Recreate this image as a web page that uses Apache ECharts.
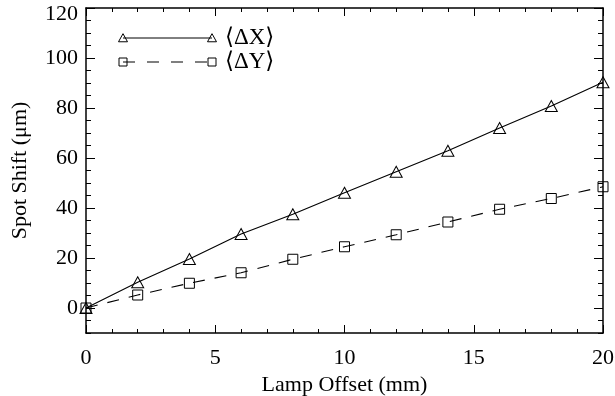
<!DOCTYPE html>
<html>
<head>
<meta charset="utf-8">
<script src="https://cdn.jsdelivr.net/npm/echarts@6/dist/echarts.min.js"></script>
<style>html,body{margin:0;padding:0;background:#fff}#c{width:615px;height:396px}</style>
</head>
<body>
<div id="c"></div>
<script>
var offsets = [0, 2, 4, 6, 8, 10, 12, 14, 16, 18, 20];
var dX = [0, 10.3, 19.6, 29.6, 37.5, 46.1, 54.5, 62.9, 72.0, 80.8, 90.3];
var dY = [0, 5.2, 9.9, 14.1, 19.5, 24.5, 29.3, 34.4, 39.5, 43.8, 48.5];
var yMajor = [0, 20, 40, 60, 80, 100, 120];
var seriesNames = ['\u27E8\u0394X\u27E9', '\u27E8\u0394Y\u27E9'];

var FONT = '"Liberation Serif", "DejaVu Serif", serif';
var chart = echarts.init(document.getElementById('c'), null, {renderer: 'canvas'});

function pairs(xs, ys) { return xs.map(function (x, i) { return [x, ys[i]]; }); }

var lineCol = '#000';
var gridPos = {left: 86, right: 12, top: 8, bottom: 63, containLabel: false, outerBoundsMode: 'none'};

function xAx(pos, show) {
  return {
    type: 'value', position: pos, min: 0, max: 20, interval: 5,
    axisLine: {show: true, onZero: false, lineStyle: {color: lineCol, width: 1.5}},
    axisTick: {show: true, inside: true, length: 8, lineStyle: {color: lineCol}},
    minorTick: {show: true, splitNumber: 5, length: 4, lineStyle: {color: lineCol}},
    splitLine: {show: false},
    axisLabel: {show: show, fontFamily: FONT, fontSize: 22, color: '#000', margin: 14},
    name: show ? 'Lamp Offset (mm)' : '', nameLocation: 'middle', nameGap: 32,
    nameTextStyle: {fontFamily: FONT, fontSize: 22, color: '#000', verticalAlign: 'middle'}
  };
}
function yMajorAx(pos, show) {
  var top = yMajor[yMajor.length - 1];
  return {
    type: 'value', position: pos, min: -10, max: 120,
    axisLine: {show: true, onZero: false, lineStyle: {color: lineCol, width: 1.5}},
    axisTick: {show: true, inside: true, length: 9, customValues: yMajor, lineStyle: {color: lineCol}},
    splitLine: {show: false},
    axisLabel: {
      show: show, customValues: yMajor, fontFamily: FONT, fontSize: 22, color: '#000', margin: 8,
      formatter: function (v) { return v === top ? '{t|' + v + '}' : String(v); },
      rich: {t: {fontFamily: FONT, fontSize: 22, color: '#000', padding: [12, 0, 0, 0]}}
    },
    name: show ? 'Spot Shift (\u03BCm)' : '', nameLocation: 'middle', nameGap: 55,
    nameTextStyle: {fontFamily: FONT, fontSize: 22, color: '#000'}
  };
}
function yMinorAx(pos) {
  return {
    type: 'value', position: pos, min: -10, max: 120, interval: 5,
    axisLine: {show: false, onZero: false},
    axisTick: {show: true, inside: true, length: 5, lineStyle: {color: lineCol}},
    splitLine: {show: false},
    axisLabel: {show: false}
  };
}

// legend drawn as graphic
var lgX0 = 123, lgX1 = 212, lgY1 = 38, lgY2 = 62, lgTx = 225;
function tri(cx, cy, s) {
  return {type: 'polygon', shape: {points: [[cx - s / 2, cy + s * 0.42], [cx + s / 2, cy + s * 0.42], [cx, cy - s * 0.48]]},
    style: {fill: 'none', stroke: '#000', lineWidth: 1}};
}
function sq(cx, cy, s) {
  return {type: 'rect', shape: {x: cx - s / 2, y: cy - s / 2, width: s, height: s},
    style: {fill: 'none', stroke: '#000', lineWidth: 1}};
}
var graphics = [
  {type: 'line', shape: {x1: lgX0, y1: lgY1, x2: lgX1, y2: lgY1}, style: {stroke: '#000', lineWidth: 1}},
  tri(lgX0, lgY1, 9), tri(lgX1, lgY1, 9),
  {type: 'text', x: lgTx, y: lgY1, style: {text: seriesNames[0], font: '23px ' + FONT, fill: '#000', verticalAlign: 'middle'}},
  {type: 'line', shape: {x1: lgX0, y1: lgY2, x2: lgX1, y2: lgY2}, style: {stroke: '#000', lineWidth: 1, lineDash: [12, 12]}},
  sq(lgX0, lgY2, 8), sq(lgX1, lgY2, 8),
  {type: 'text', x: lgTx, y: lgY2, style: {text: seriesNames[1], font: '23px ' + FONT, fill: '#000', verticalAlign: 'middle'}}
];

chart.setOption({
  animation: false,
  backgroundColor: '#fff',
  grid: gridPos,
  xAxis: [xAx('bottom', true), xAx('top', false)],
  yAxis: [yMajorAx('left', true), yMajorAx('right', false), yMinorAx('left'), yMinorAx('right')],
  graphic: graphics,
  series: [
    {
      name: seriesNames[0], type: 'line', data: pairs(offsets, dX),
      symbol: 'triangle', symbolSize: [12, 11],
      lineStyle: {color: '#000', width: 1.1},
      itemStyle: {color: 'rgba(0,0,0,0)', borderColor: '#000', borderWidth: 1},
      z: 3
    },
    {
      name: seriesNames[1], type: 'line', data: pairs(offsets, dY),
      symbol: 'rect', symbolSize: 10,
      lineStyle: {color: '#000', width: 1.1, type: [12, 10]},
      itemStyle: {color: 'rgba(0,0,0,0)', borderColor: '#000', borderWidth: 1},
      z: 3
    }
  ]
});
</script>
</body>
</html>
